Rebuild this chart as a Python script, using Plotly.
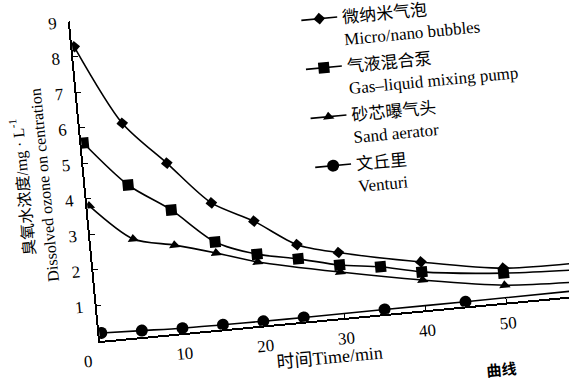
import plotly.graph_objects as go

# Dissolved ozone concentration (mg/L) over time (min) for four aeration methods
time_micro = [0, 5, 10, 15, 20, 25, 30, 40, 50, 60]
ozone_micro = [8.28, 6.02, 4.79, 3.56, 2.94, 2.17, 1.84, 1.36, 0.97, 0.92]

time_pump = [0, 5, 10, 15, 20, 25, 30, 35, 40, 50, 60]
ozone_pump = [5.57, 4.28, 3.47, 2.46, 2.01, 1.77, 1.49, 1.33, 1.08, 0.83, 0.72]

time_sand = [0, 5, 10, 15, 20, 30, 40, 50, 60]
ozone_sand = [3.80, 2.76, 2.48, 2.15, 1.79, 1.29, 0.85, 0.49, 0.38]

time_venturi = [0, 5, 10, 15, 20, 25, 35, 45, 60]
ozone_venturi = [0.22, 0.18, 0.14, 0.13, 0.12, 0.12, 0.13, 0.13, 0.15]

names_cn = ["微纳米气泡", "气液混合泵", "砂芯曝气头", "文丘里"]
names_en = ["Micro/nano bubbles", "Gas–liquid mixing pump", "Sand aerator", "Venturi"]
symbols = ["diamond", "square", "triangle-up", "circle"]
sizes = [9, 11, 10, 12]

x_ticks = [10, 20, 30, 40, 50]
y_ticks = [1, 2, 3, 4, 5, 6, 7, 8, 9]

FONT = "Liberation Serif, Noto Sans CJK SC, serif"

fig = go.Figure()
series = [
    (time_micro, ozone_micro),
    (time_pump, ozone_pump),
    (time_sand, ozone_sand),
    (time_venturi, ozone_venturi),
]
for i, (t, c) in enumerate(series):
    label = f"<span style='font-size:17px'>{names_cn[i]}</span><br>{names_en[i]}"
    fig.add_trace(go.Scatter(
        x=t, y=c, name=label, legendgroup=f"g{i}",
        mode="lines+markers",
        line=dict(color="black", width=1.6, shape="spline", smoothing=0.8),
        marker=dict(symbol=symbols[i], size=sizes[i], color="black"),
    ))

W, H = 620, 440
fig.update_layout(
    width=W, height=H,
    margin=dict(l=100, r=42, t=20, b=99),
    paper_bgcolor="white", plot_bgcolor="white",
    font=dict(family=FONT, color="black", size=16),
    showlegend=True,
    legend=dict(
        x=0.472, y=0.99, xanchor="left", yanchor="top",
        bgcolor="rgba(0,0,0,0)", font=dict(size=17, family=FONT),
        valign="top", itemwidth=36, tracegroupgap=2,
    ),
    xaxis=dict(
        range=[-0.25, 58.6], tickvals=x_ticks,
        showline=True, linecolor="black", linewidth=1.6,
        ticks="inside", ticklen=5, tickcolor="black", tickwidth=1.2,
        showgrid=False, zeroline=False,
        tickfont=dict(size=17, family=FONT),
        ticklabelstandoff=4,
    ),
    yaxis=dict(
        range=[0, 9], tickvals=y_ticks,
        showline=True, linecolor="black", linewidth=1.6,
        ticks="inside", ticklen=5, tickcolor="black", tickwidth=1.2,
        showgrid=False, zeroline=False,
        tickfont=dict(size=17, family=FONT),
        ticklabelstandoff=8,
        title=dict(
            text="臭氧水浓度/mg · L<sup>-1</sup><br>Dissolved ozone on centration",
            font=dict(size=16, family=FONT), standoff=9,
        ),
    ),
    annotations=[
        # x-axis title
        dict(text="时间Time/min", xref="paper", yref="paper", x=0.475, y=-0.119,
             xanchor="center", yanchor="middle", showarrow=False,
             font=dict(size=18, family=FONT)),
        # shared origin label
        dict(text="0", xref="paper", yref="paper", x=-0.029, y=-0.062,
             xanchor="center", yanchor="middle", showarrow=False,
             font=dict(size=17, family=FONT)),
        dict(text="<b>曲线</b>", xref="paper", yref="paper", x=0.83, y=-0.205,
             xanchor="center", yanchor="middle", showarrow=False,
             font=dict(size=15, family="Noto Sans CJK SC")),
    ],
)

# The printed figure sits slightly tilted on the page
post = """
var gd = document.getElementById('{plot_id}');
document.documentElement.style.overflow = 'hidden';
document.body.style.margin = '0';
document.body.style.overflow = 'hidden';
gd.style.transformOrigin = '100px 341px';
gd.style.transform = 'rotate(-5.4deg)';
"""

fig.write_html("out.html", config={"displayModeBar": False}, post_script=post)
